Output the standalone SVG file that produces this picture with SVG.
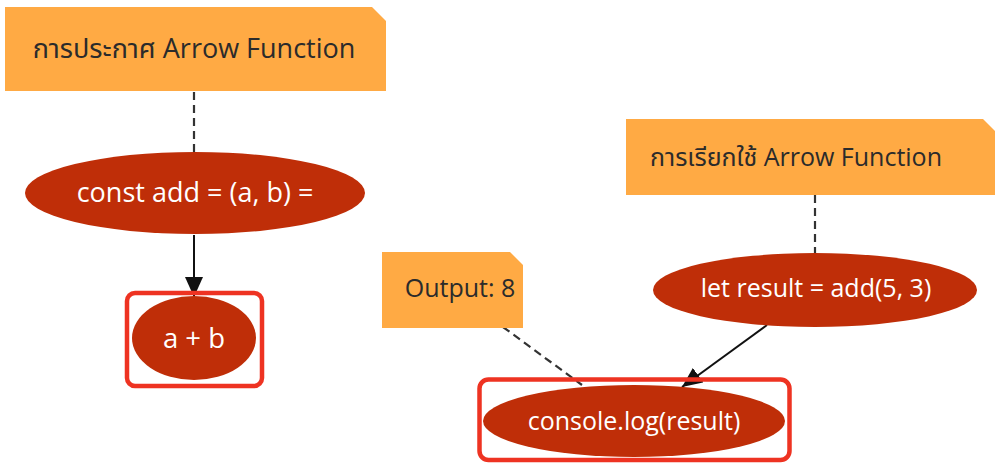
<svg xmlns="http://www.w3.org/2000/svg" width="996" height="465" viewBox="0 0 996 465">
  <style>
    .note { fill: #FFAA44; }
    .note-text { fill: #2b2b2b; font-family: "Open Sans", "Noto Sans Thai", "Noto Sans", "DejaVu Sans", sans-serif; }
    .node { fill: #BF2E08; }
    .node-text { fill: #ffffff; font-family: "Open Sans", "Noto Sans", sans-serif; text-anchor: middle; }
    .frame { fill: none; stroke: #EE3322; stroke-width: 4.5; }
    .dash { fill: none; stroke: #333333; stroke-width: 2.2; stroke-dasharray: 8 5; }
    .edge { fill: none; stroke: #111111; stroke-width: 2; }
  </style>
  <defs>
    <marker id="arrowBig" viewBox="0 0 20 18" refX="20" refY="9" markerWidth="20" markerHeight="18" markerUnits="userSpaceOnUse" orient="auto">
      <path d="M0,0 L20,9 L0,18 Z" fill="#111111"/>
    </marker>
  </defs>
  <rect width="996" height="465" fill="#ffffff"/>

  <!-- connectors -->
  <g id="connectors">
    <line class="dash" x1="194" y1="92" x2="194" y2="153"/>
    <line class="edge" x1="194" y1="235" x2="194" y2="297" marker-end="url(#arrowBig)"/>
    <line class="dash" x1="815" y1="195" x2="815" y2="253"/>
    <line class="edge" x1="767" y1="325" x2="682" y2="387" marker-end="url(#arrowBig)"/>
    <line class="dash" x1="503" y1="327" x2="582" y2="385"/>
  </g>

  <!-- declaration note -->
  <g id="note-declare">
    <polygon class="note" points="5,7 372,7 386,21 386,91 5,91"/>
    <text class="note-text" x="194" y="58" font-size="27" text-anchor="middle">การประกาศ Arrow Function</text>
  </g>

  <!-- function definition -->
  <g id="node-const-add">
    <ellipse class="node" cx="195" cy="193" rx="170" ry="41"/>
    <text class="node-text" x="195" y="202" font-size="27">const add = (a, b) =</text>
  </g>

  <!-- function body -->
  <g id="node-a-plus-b">
    <rect class="frame" x="127" y="293" width="135" height="93" rx="8"/>
    <ellipse class="node" cx="194" cy="338" rx="62" ry="42"/>
    <text class="node-text" x="194" y="348" font-size="27.5">a + b</text>
  </g>

  <!-- call note -->
  <g id="note-call">
    <polygon class="note" points="626,119 983,119 995,131 995,195 626,195"/>
    <text class="note-text" x="650" y="166" font-size="25">การเรียกใช้ Arrow Function</text>
  </g>

  <!-- call site -->
  <g id="node-let-result">
    <ellipse class="node" cx="815" cy="290" rx="162" ry="37"/>
    <text class="node-text" x="816" y="297" font-size="25">let result = add(5, 3)</text>
  </g>

  <!-- output note -->
  <g id="note-output">
    <polygon class="note" points="382,252 510,252 523,265 523,328 382,328"/>
    <text class="note-text" x="460" y="297" font-size="25" text-anchor="middle">Output: 8</text>
  </g>

  <!-- console output -->
  <g id="node-console-log">
    <rect class="frame" x="479.5" y="379.5" width="310" height="80.5" rx="9"/>
    <ellipse class="node" cx="634" cy="421" rx="151" ry="36"/>
    <text class="node-text" x="634" y="430" font-size="25">console.log(result)</text>
  </g>
</svg>
